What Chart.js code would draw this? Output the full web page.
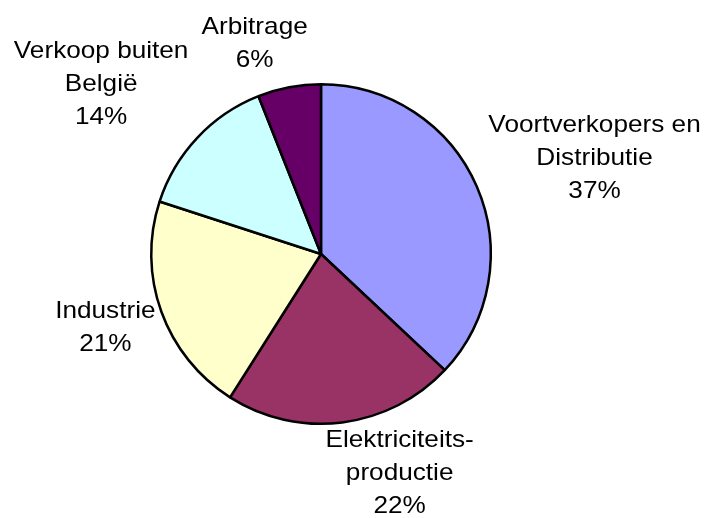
<!DOCTYPE html>
<html>
<head>
<meta charset="utf-8">
<script src="https://cdn.jsdelivr.net/npm/chart.js@4/dist/chart.umd.min.js"></script>
<style>
  html, body { margin: 0; padding: 0; background: #fff; }
  #wrap { width: 705px; height: 518px; }
</style>
</head>
<body>
<div id="wrap"><canvas id="pie" width="705" height="518"></canvas></div>
<script>
// data
const categorieen = [
  ['Voortverkopers en', 'Distributie'],
  ['Elektriciteits-', 'productie'],
  ['Industrie'],
  ['Verkoop buiten', 'België'],
  ['Arbitrage']
];
const aandelen = [37, 22, 21, 14, 6];
const kleuren = ['#9999ff', '#993366', '#ffffcc', '#ccffff', '#660066'];

// label placement: radial distance (x radius) + small nudge in px
const labelAfstand = 1.3;
const labelNudge = [[71, -8], [51, 0], [-8, -1], [-59, -19], [-25, 7]];

const labelPlugin = {
  id: 'sliceLabels',
  afterDatasetsDraw(chart) {
    const ctx = chart.ctx;
    const arcs = chart.getDatasetMeta(0).data;
    ctx.save();
    ctx.fillStyle = '#000';
    ctx.font = '24px "Liberation Sans", Arial, sans-serif';
    ctx.textAlign = 'center';
    ctx.textBaseline = 'middle';
    const lh = 33;
    arcs.forEach((arc, i) => {
      const p = arc.getProps(['x', 'y', 'startAngle', 'endAngle', 'outerRadius'], true);
      const mid = (p.startAngle + p.endAngle) / 2;
      const cx = p.x + Math.cos(mid) * p.outerRadius * labelAfstand + labelNudge[i][0];
      const cy = p.y + Math.sin(mid) * p.outerRadius * labelAfstand + labelNudge[i][1];
      const regels = categorieen[i].concat([aandelen[i] + '%']);
      const top = cy - (regels.length - 1) * lh / 2;
      regels.forEach((t, j) => {
        ctx.save();
        ctx.translate(cx, top + j * lh);
        ctx.scale(1.09, 1);
        ctx.fillText(t, 0, 0);
        ctx.restore();
      });
    });
    ctx.restore();
  }
};

new Chart(document.getElementById('pie'), {
  type: 'pie',
  data: {
    labels: categorieen.map(c => c.join(' ')),
    datasets: [{
      data: aandelen,
      backgroundColor: kleuren,
      borderColor: '#000',
      borderWidth: 2.5
    }]
  },
  options: {
    responsive: false,
    animation: false,
    layout: { padding: { left: 150, right: 213, top: 83, bottom: 93 } },
    plugins: { legend: { display: false }, tooltip: { enabled: false } }
  },
  plugins: [labelPlugin]
});
</script>
</body>
</html>
